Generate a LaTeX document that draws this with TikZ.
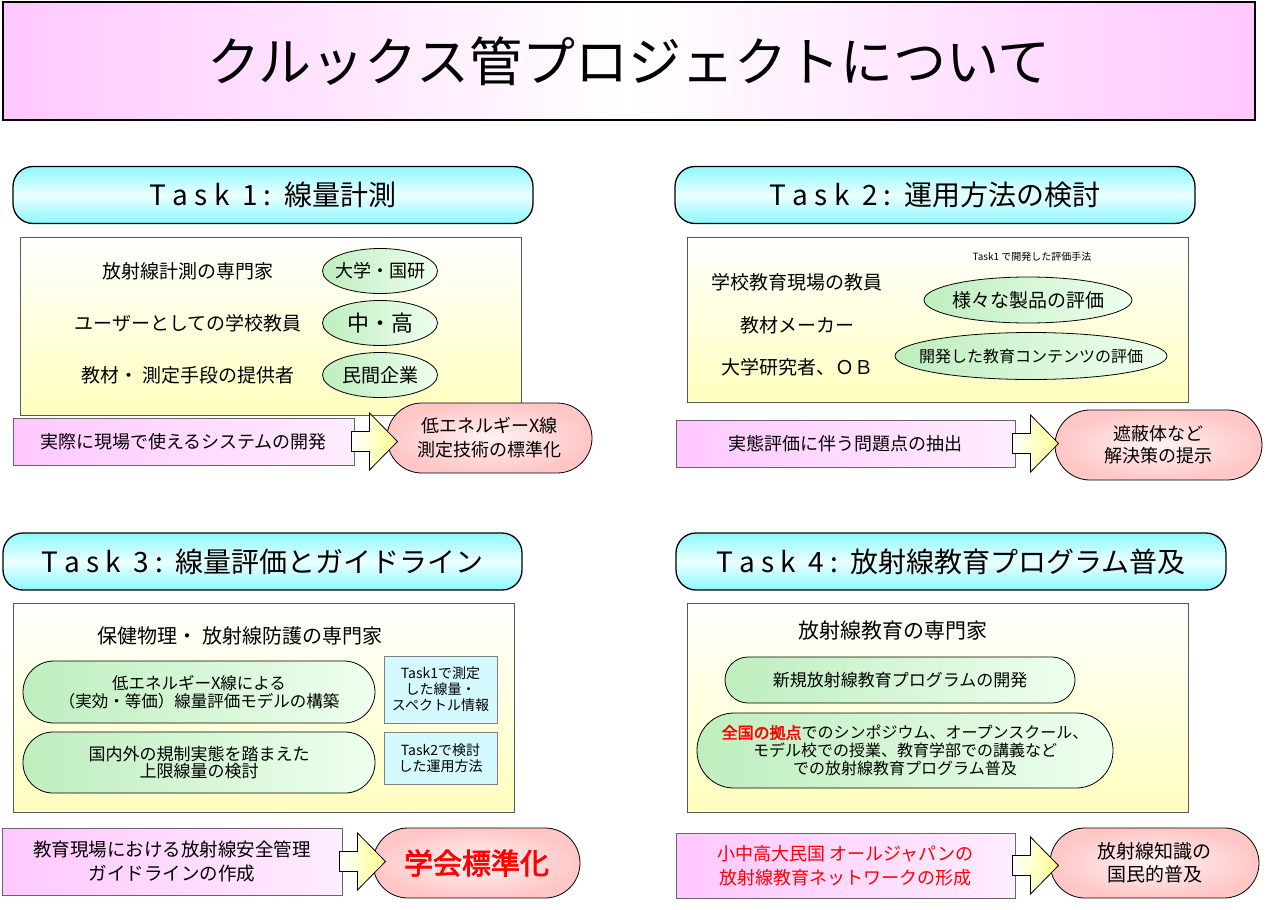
\documentclass[tikz,border=0pt]{standalone}
\usepackage{fontspec}
\setmainfont{Noto Sans CJK JP}[AutoFakeBold=2.5]
\usepackage{tikz}
\usetikzlibrary{shapes.geometric}
\tikzset{>=latex}
\definecolor{lilac}{RGB}{255,200,255}
\definecolor{lilacpale}{RGB}{255,236,255}
\definecolor{aqua}{RGB}{140,248,255}
\definecolor{aquapale}{RGB}{235,255,255}
\definecolor{cream}{RGB}{255,255,190}
\definecolor{mint}{RGB}{190,238,190}
\definecolor{mintpale}{RGB}{238,255,238}
\definecolor{rose}{RGB}{255,198,198}
\definecolor{rosepale}{RGB}{255,242,242}
\definecolor{lemon}{RGB}{255,255,140}
\definecolor{ice}{RGB}{212,250,255}
\def\bodyw{501}

\tikzset{
  titlebox/.style={draw=black, line width=1.6pt, left color=lilac, right color=lilac, middle color=white,
    minimum width=1252, minimum height=118, inner sep=0pt, font=\fontsize{53}{53}\selectfont},
  taskhead/.style={draw=black, line width=1.3pt, rounded corners=20, top color=aqua, bottom color=aqua,
    middle color=aquapale, minimum height=57, inner sep=0pt, font=\fontsize{28}{28}\selectfont},
  taskbody/.style={draw=black!65, line width=1pt, top color=white, bottom color=cream, minimum width=\bodyw, inner sep=0pt},
  rolelabel/.style={inner sep=0pt, font=\fontsize{19}{19}\selectfont},
  greenoval/.style={ellipse, draw=black, line width=0.8pt, left color=mint, right color=mintpale, inner sep=-30pt},
  greenpill/.style={draw=black, line width=0.8pt, left color=mint, right color=mintpale, inner sep=0pt, align=center},
  infobox/.style={draw=black!50, line width=0.8pt, fill=ice, inner sep=0pt, align=center, font=\fontsize{14}{16}\selectfont},
  devbox/.style={draw=black!60, line width=1pt, left color=lilac, right color=lilacpale, inner sep=0pt, align=center},
  goaloval/.style={draw=black, line width=0.8pt, inner color=rosepale, outer color=rose, rounded corners=35,
    minimum height=70, inner sep=0pt, align=center},
  blockarrow/.style={draw=black, line width=0.8pt, left color=white, right color=lemon}
}
\newcommand{\blockarrow}[1]{%
  \draw[blockarrow] ([xshift=-3pt,yshift=10pt]#1.east) -- ++(18,0) -- ++(0,-18.5) -- ++(28,28.5)
    -- ++(-28,28.5) -- ++(0,-18.5) -- ++(-18,0) -- cycle;}

\begin{document}
\begin{tikzpicture}[x=1pt, y=-1pt]
\useasboundingbox (0,0) rectangle (1275,910);
\fill[white] (0,0) rectangle (1275,910);

% Title
\node[titlebox] (title) at (629,61) {クルックス管プロジェクトについて};

% Task headers
\foreach \i/\cx/\cy/\w/\txt in {1/273/195/520/線量計測, 2/935/195/520/運用方法の検討,
    3/262.5/561.5/519/線量評価とガイドライン, 4/951/561.5/550/放射線教育プログラム普及}{
  \node[taskhead, minimum width=\w] (head\i) at (\cx,\cy) {T a s k\ \ \i\ :\ \ \txt};
}

% Task bodies
\foreach \i/\cx/\cy/\h in {1/270.5/326/178, 2/937.5/319.5/165, 3/264/707.5/209, 4/937.5/707.5/209}{
  \node[taskbody, minimum height=\h] (body\i) at (\cx,\cy) {};
}

% Task 1
\foreach \who/\org/\sz [count=\i] in {放射線計測の専門家/大学・国研/18, ユーザーとしての学校教員/中・高/22,
    教材・\ 測定手段の提供者/民間企業/19}{
  \node[rolelabel] (who1-\i) at (188,219+52*\i) {\who};
  \node[greenoval, minimum width=115, minimum height=45, font=\fontsize{\sz}{\sz}\selectfont] (org1-\i) at (380,219+52*\i) {\org};
}

% Task 2
\node[inner sep=0pt, font=\fontsize{10}{10}\selectfont] (note2) at (1032,257) {Task1 で開発した評価手法};
\foreach \who/\y [count=\i] in {学校教育現場の教員/282, 教材メーカー/325, 大学研究者、ＯＢ/367}{
  \node[rolelabel] (who2-\i) at (797,\y) {\who};
}
\node[greenoval, minimum width=208, minimum height=46, font=\fontsize{19}{19}\selectfont] (eval2-1) at (1028,300) {様々な製品の評価};
\node[greenoval, minimum width=272, minimum height=47, font=\fontsize{16}{16}\selectfont] (eval2-2) at (1031,356) {開発した教育コンテンツの評価};

% Task 3
\node[rolelabel, font=\fontsize{20}{20}\selectfont] (who3) at (240,636) {保健物理・\ 放射線防護の専門家};
\node[greenpill, minimum width=352, minimum height=62, rounded corners=31, font=\fontsize{16.5}{18}\selectfont] (model3)
  at (199,692) {低エネルギーX線による\\（実効・等価）線量評価モデルの構築};
\node[infobox, minimum width=113, minimum height=67] (info3-1) at (440.5,689.5) {Task1で測定\\した線量・\\スペクトル情報};
\node[greenpill, minimum width=352, minimum height=61, rounded corners=30, font=\fontsize{17}{17}\selectfont] (limit3)
  at (199,762.5) {国内外の規制実態を踏まえた\\上限線量の検討};
\node[infobox, minimum width=113, minimum height=52] (info3-2) at (440.5,758) {Task2で検討\\した運用方法};

% Task 4
\node[rolelabel, font=\fontsize{21}{21}\selectfont] (who4) at (893,631) {放射線教育の専門家};
\node[greenpill, minimum width=350, minimum height=46, rounded corners=23, font=\fontsize{17}{17}\selectfont] (prog4)
  at (900,680) {新規放射線教育プログラムの開発};
\node[greenpill, minimum width=416, minimum height=75, rounded corners=37, font=\fontsize{16}{18}\selectfont] (spread4)
  at (905,750.5) {{\color{red}\bfseries 全国の拠点}でのシンポジウム、オープンスクール、\\モデル校での授業、教育学部での講義など\\での放射線教育プログラム普及};

% Outcomes
\node[devbox, minimum width=341, minimum height=47, font=\fontsize{18}{18}\selectfont] (dev1) at (183.5,441.5) {実際に現場で使えるシステムの開発};
\node[goaloval, minimum width=205, font=\fontsize{18}{24}\selectfont] (goal1) at (489.5,438) {低エネルギーX線\\測定技術の標準化};
\node[devbox, minimum width=339, minimum height=47, font=\fontsize{18}{18}\selectfont] (dev2) at (845.5,443.5) {実態評価に伴う問題点の抽出};
\node[goaloval, minimum width=207, font=\fontsize{18}{22}\selectfont] (goal2) at (1158.5,445) {遮蔽体など\\解決策の提示};
\node[devbox, minimum width=340, minimum height=67, font=\fontsize{18.5}{24}\selectfont] (dev3) at (172,861.5) {教育現場における放射線安全管理\\ガイドラインの作成};
\node[goaloval, minimum width=207, font=\fontsize{29}{29}\selectfont\bfseries, text=red] (goal3) at (476.5,863) {学会標準化};
\node[devbox, minimum width=339, minimum height=65, font=\fontsize{18}{24}\selectfont, text=red] (dev4) at (845.5,865.5) {小中高大民国 オールジャパンの\\放射線教育ネットワークの形成};
\node[goaloval, minimum width=209, font=\fontsize{19}{23}\selectfont] (goal4) at (1154.5,863) {放射線知識の\\国民的普及};

% Block arrows
\foreach \i in {1,...,4}{
  \blockarrow{dev\i}
}

\end{tikzpicture}
\end{document}
